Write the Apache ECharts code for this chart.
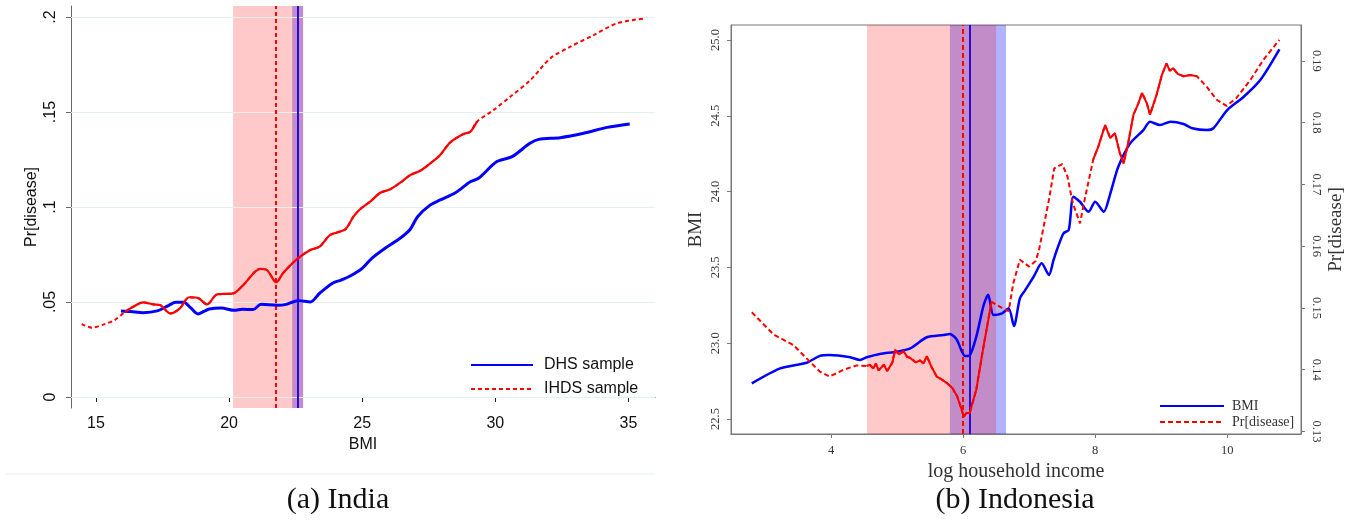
<!DOCTYPE html>
<html>
<head>
<meta charset="utf-8">
<title>BMI and Pr[disease]: India and Indonesia</title>
<script src="https://cdn.jsdelivr.net/npm/echarts@6/dist/echarts.min.js"></script>
<style>
  html, body { margin: 0; padding: 0; background: #fff; }
  #chart { width: 1353px; height: 521px; }
</style>
</head>
<body>
<div id="chart"></div>
<script>
// (a) India: Pr[disease] against BMI
const indiaXTicks = [15, 20, 25, 30, 35]
const indiaYTicks = [0, 0.05, 0.1, 0.15, 0.2]
const indiaDhs = [
  [15.94, .0453], [16.3, .0450], [16.77, .0444], [17.3, .0453], [17.7, .0480], [18.0, .0498],
  [18.3, .0498], [18.55, .0470], [18.83, .0437], [19.05, .0450], [19.25, .0463], [19.7, .0468],
  [20.2, .0456], [20.5, .0462], [20.9, .0460], [21.2, .0488], [21.8, .0483], [22.1, .0486],
  [22.6, .0507], [23.05, .0500], [23.4, .0546], [23.9, .0600], [24.2, .0615], [24.55, .0637],
  [25.0, .0677], [25.36, .0730], [25.86, .0783], [26.37, .0830], [26.8, .0882], [27.08, .0949],
  [27.56, .1011], [27.93, .1037], [28.5, .1075], [29.06, .1133], [29.37, .1151], [30.06, .1239],
  [30.63, .1265], [31.3, .1335], [31.63, .1356], [32.44, .1365], [33.32, .1388], [34.2, .1419],
  [35.05, .1437]
]
const indiaIhds = [
  [14.46, .0384], [14.84, .0365], [15.27, .0381], [15.7, .0405], [16.1, .0449], [16.4, .0475],
  [16.77, .0498], [17.15, .0487], [17.4, .0484], [17.8, .0440], [18.15, .0466], [18.5, .0525],
  [18.85, .0520], [19.17, .0487], [19.55, .0540], [20.15, .0545], [20.53, .0589], [21.17, .0674],
  [21.43, .0667], [21.77, .0604], [22.03, .0653], [22.56, .0727], [23.05, .0774], [23.4, .0791],
  [23.8, .0853], [24.36, .0882], [24.67, .0949], [24.92, .0988], [25.3, .1028], [25.68, .1075],
  [26.05, .1093], [26.43, .1128], [26.8, .1168], [27.18, .1191], [27.56, .1230], [27.93, .1274],
  [28.3, .1339], [28.8, .1384], [29.06, .1396], [29.31, .1449], [29.94, .1511], [30.56, .1580],
  [31.32, .1668], [32.07, .1783], [32.82, .1844], [33.7, .1905], [34.58, .1967], [35.64, .1993]
]
const indiaIhdsSolid = [[16.1, 29.31]]
const indiaPinkBand = [20.15, 22.78]
const indiaBlueBand = [22.37, 22.78]
const indiaIhdsMark = 21.77
const indiaDhsMark = 22.58

// (b) Indonesia: BMI and Pr[disease] against log household income
const indoXTicks = [4, 6, 8, 10]
const indoBmiTicks = [22.5, 23.0, 23.5, 24.0, 24.5, 25.0]
const indoPrTicks = [0.13, 0.14, 0.15, 0.16, 0.17, 0.18, 0.19]
const indoBmi = [
  [2.8, 22.735], [3.23, 22.834], [3.63, 22.871], [3.83, 22.916], [3.98, 22.922], [4.29, 22.907],
  [4.44, 22.889], [4.54, 22.907], [4.74, 22.929], [5.0, 22.944], [5.2, 22.966], [5.45, 23.039],
  [5.7, 23.054], [5.8, 23.06], [5.9, 23.026], [6.03, 22.916], [6.1, 22.92], [6.2, 23.043],
  [6.31, 23.25], [6.38, 23.32], [6.46, 23.186], [6.59, 23.197], [6.69, 23.23], [6.77, 23.113],
  [6.86, 23.296], [6.94, 23.35], [7.07, 23.44], [7.19, 23.527], [7.3, 23.45], [7.37, 23.549],
  [7.42, 23.615], [7.52, 23.725], [7.6, 23.747], [7.67, 23.966], [7.77, 23.933], [7.9, 23.867],
  [8.0, 23.933], [8.13, 23.867], [8.23, 23.989], [8.35, 24.164], [8.53, 24.318], [8.73, 24.406],
  [8.83, 24.461], [8.98, 24.439], [9.14, 24.461], [9.34, 24.446], [9.47, 24.418], [9.69, 24.406],
  [9.79, 24.418], [10.0, 24.538], [10.25, 24.626], [10.5, 24.736], [10.79, 24.939]
]
const indoPr = [
  [2.8, .1493], [3.13, .1457], [3.43, .1440], [3.68, .1413], [3.83, .1397], [3.98, .1389],
  [4.19, .1400], [4.39, .1407], [4.54, .1406], [4.59, .1408], [4.64, .1402], [4.68, .1410],
  [4.72, .1399], [4.8, .1408], [4.85, .1398], [4.89, .1405], [4.93, .1412], [4.97, .1432],
  [5.03, .1425], [5.1, .1430], [5.15, .1421], [5.2, .1419], [5.28, .1412], [5.35, .1415],
  [5.4, .1410], [5.45, .1422], [5.52, .1405], [5.6, .1389], [5.68, .1384], [5.76, .1378],
  [5.84, .1370], [5.91, .1357], [5.97, .1338], [6.01, .1324], [6.05, .1330], [6.1, .1330],
  [6.2, .1368], [6.3, .1432], [6.43, .1510], [6.59, .1500], [6.69, .1495], [6.76, .1540],
  [6.86, .1578], [7.0, .1567], [7.1, .1576], [7.15, .1594], [7.2, .1621], [7.3, .1675],
  [7.38, .1726], [7.5, .1733], [7.58, .1713], [7.66, .1670], [7.77, .1637], [7.84, .1675],
  [7.97, .1740], [8.05, .1762], [8.15, .1796], [8.23, .1775], [8.3, .1783], [8.37, .1752],
  [8.43, .1734], [8.5, .1767], [8.58, .1813], [8.65, .1830], [8.71, .1848], [8.78, .1832],
  [8.83, .1813], [8.93, .1845], [9.01, .1877], [9.08, .1896], [9.13, .1884], [9.18, .1888],
  [9.25, .1879], [9.34, .1875], [9.44, .1877], [9.54, .1875], [9.69, .1858], [9.84, .1837],
  [9.99, .1827], [10.14, .1840], [10.35, .1869], [10.55, .1902], [10.79, .1934]
]
const indoPrSolid = [[4.54, 6.43], [7.97, 9.54]]
const indoPinkBand = [4.545, 6.5]
const indoBlueBand = [5.8, 6.65]
const indoPrMark = 6.0
const indoBmiMark = 6.1

const RED = '#ff0000'
const BLUE = '#0000ff'
const SANS = 'Liberation Sans'
const SERIF = 'Liberation Serif'

const inRange = (data, range) => data.filter(d => d[0] >= range[0] && d[0] <= range[1])

const chart = echarts.init(document.getElementById('chart'))

const sansLabel = { fontFamily: SANS, fontSize: 16, color: '#111' }
const serifLabel = { fontFamily: SERIF, fontSize: 12.5, color: '#333' }
// line-only legend icons (hide the default circle)
const noSymbol = { color: 'transparent', borderColor: 'transparent', borderWidth: 0, opacity: 0 }

const series = [
  // bands, guide lines and grid lines of panel (a)
  {
    type: 'line', xAxisIndex: 0, yAxisIndex: 0, data: [], silent: true, z: 1,
    markLine: {
      silent: true, symbol: 'none', label: { show: false }, z: 1,
      lineStyle: { color: '#e6eef0', width: 1, type: 'solid' },
      data: indiaYTicks.map(v => ({ yAxis: v }))
    },
    markArea: {
      silent: true, z: 1,
      data: [
        [{ xAxis: indiaBlueBand[0], itemStyle: { color: 'rgba(0,0,255,0.3)' } }, { xAxis: indiaBlueBand[1] }],
        [{ xAxis: indiaPinkBand[0], itemStyle: { color: 'rgba(255,0,0,0.21)' } }, { xAxis: indiaPinkBand[1] }]
      ]
    }
  },
  {
    type: 'line', xAxisIndex: 0, yAxisIndex: 0, data: [], silent: true, z: 3,
    markLine: {
      silent: true, symbol: 'none', label: { show: false }, z: 3,
      data: [
        { xAxis: indiaIhdsMark, lineStyle: { color: RED, width: 2, type: [4, 3] } },
        { xAxis: indiaDhsMark, lineStyle: { color: '#2a0ad8', width: 2, type: 'solid' } }
      ]
    }
  },
  {
    name: 'DHS sample', type: 'line', xAxisIndex: 0, yAxisIndex: 0, data: indiaDhs,
    showSymbol: false, symbol: 'none', smooth: 0.3, z: 4,
    lineStyle: { color: BLUE, width: 3 }, itemStyle: { color: BLUE }
  },
  {
    name: 'IHDS sample', type: 'line', xAxisIndex: 0, yAxisIndex: 0, data: indiaIhds,
    showSymbol: false, symbol: 'none', smooth: 0.3, z: 4,
    lineStyle: { color: RED, width: 2, type: [4, 3] }, itemStyle: { color: RED }
  },
  ...indiaIhdsSolid.map(r => ({
    name: 'IHDS sample', type: 'line', xAxisIndex: 0, yAxisIndex: 0, data: inRange(indiaIhds, r),
    showSymbol: false, symbol: 'none', smooth: 0.3, z: 4,
    lineStyle: { color: RED, width: 2.2 }, itemStyle: { color: RED }
  })),

  // bands and guide lines of panel (b)
  {
    type: 'line', xAxisIndex: 1, yAxisIndex: 1, data: [], silent: true, z: 1,
    markArea: {
      silent: true, z: 1,
      data: [
        [{ xAxis: indoBlueBand[0], itemStyle: { color: 'rgba(0,0,255,0.3)' } }, { xAxis: indoBlueBand[1] }],
        [{ xAxis: indoPinkBand[0], itemStyle: { color: 'rgba(255,0,0,0.21)' } }, { xAxis: indoPinkBand[1] }]
      ]
    }
  },
  {
    type: 'line', xAxisIndex: 1, yAxisIndex: 1, data: [], silent: true, z: 3,
    markLine: {
      silent: true, symbol: 'none', label: { show: false }, z: 3,
      data: [
        { xAxis: indoPrMark, lineStyle: { color: RED, width: 2, type: [5, 3] } },
        { xAxis: indoBmiMark, lineStyle: { color: '#2a0ad8', width: 2, type: 'solid' } }
      ]
    }
  },
  {
    name: 'BMI', type: 'line', xAxisIndex: 1, yAxisIndex: 1, data: indoBmi,
    showSymbol: false, symbol: 'none', smooth: 0.25, z: 4,
    lineStyle: { color: BLUE, width: 2.5 }, itemStyle: { color: BLUE }
  },
  {
    name: 'Pr[disease]', type: 'line', xAxisIndex: 1, yAxisIndex: 2, data: indoPr,
    showSymbol: false, symbol: 'none', z: 4,
    lineStyle: { color: RED, width: 2, type: [5, 3] }, itemStyle: { color: RED }
  },
  ...indoPrSolid.map(r => ({
    name: 'Pr[disease]', type: 'line', xAxisIndex: 1, yAxisIndex: 2, data: inRange(indoPr, r),
    showSymbol: false, symbol: 'none', z: 4,
    lineStyle: { color: RED, width: 2 }, itemStyle: { color: RED }
  }))
]

const option = {
  animation: false,
  backgroundColor: '#fff',
  grid: [
    { left: 71, top: 6, width: 584, height: 402 },
    { left: 731, top: 25, width: 570, height: 409, show: true, borderColor: '#777', borderWidth: 1 }
  ],
  xAxis: [
    {
      type: 'value', gridIndex: 0, min: 14.06, max: 36.0,
      axisLine: { show: true, lineStyle: { color: '#222', width: 1 } },
      axisTick: { show: true, customValues: indiaXTicks, length: 5, lineStyle: { color: '#222' } },
      axisLabel: { customValues: indiaXTicks, margin: 8, ...sansLabel },
      splitLine: { show: false },
      name: 'BMI', nameLocation: 'middle', nameGap: 27, nameTextStyle: sansLabel
    },
    {
      type: 'value', gridIndex: 1, min: 2.485, max: 11.117,
      axisLine: { show: true, lineStyle: { color: '#777', width: 1 } },
      axisTick: { show: true, customValues: indoXTicks, length: 4, lineStyle: { color: '#777' } },
      axisLabel: { customValues: indoXTicks, margin: 10, ...serifLabel },
      splitLine: { show: false },
      name: 'log household income', nameLocation: 'middle', nameGap: 21,
      nameTextStyle: { fontFamily: SERIF, fontSize: 20, color: '#333' }
    }
  ],
  yAxis: [
    {
      type: 'value', gridIndex: 0, min: -0.0058, max: 0.2058,
      axisLine: { show: true, lineStyle: { color: '#666', width: 1 } },
      axisTick: { show: true, customValues: indiaYTicks, length: 5, lineStyle: { color: '#666' } },
      axisLabel: {
        customValues: indiaYTicks, rotate: 90, margin: 12, ...sansLabel,
        formatter: v => (v === 0 ? '0' : String(+v.toFixed(2)).replace(/^0\./, '.'))
      },
      splitLine: { show: false },
      name: 'Pr[disease]', nameLocation: 'middle', nameGap: 31, nameTextStyle: sansLabel
    },
    {
      type: 'value', gridIndex: 1, position: 'left', min: 22.401, max: 25.099,
      axisLine: { show: true, lineStyle: { color: '#777', width: 1 } },
      axisTick: { show: true, customValues: indoBmiTicks, length: 4, lineStyle: { color: '#777' } },
      axisLabel: { customValues: indoBmiTicks, rotate: 90, margin: 9, ...serifLabel, formatter: v => v.toFixed(1) },
      splitLine: { show: false },
      name: 'BMI', nameLocation: 'middle', nameGap: 25,
      nameTextStyle: { fontFamily: SERIF, fontSize: 19, color: '#333' }
    },
    {
      type: 'value', gridIndex: 1, position: 'right', min: 0.1296, max: 0.1958,
      axisLine: { show: true, lineStyle: { color: '#777', width: 1 } },
      axisTick: { show: true, customValues: indoPrTicks, length: 4, lineStyle: { color: '#777' } },
      axisLabel: { customValues: indoPrTicks, rotate: -90, margin: 9, ...serifLabel, formatter: v => v.toFixed(2) },
      splitLine: { show: false },
      name: 'Pr[disease]', nameLocation: 'middle', nameGap: 26,
      nameTextStyle: { fontFamily: SERIF, fontSize: 19, color: '#333' }
    }
  ],
  legend: [
    {
      data: ['DHS sample', 'IHDS sample'], orient: 'vertical', left: 465, top: 352,
      itemWidth: 62, itemHeight: 16, itemGap: 8, selectedMode: false, itemStyle: noSymbol,
      textStyle: { ...sansLabel, padding: [0, 0, 0, 6] }
    },
    {
      data: ['BMI', 'Pr[disease]'], orient: 'vertical', left: 1154, top: 394,
      itemWidth: 64, itemHeight: 14, itemGap: 2, selectedMode: false, itemStyle: noSymbol,
      textStyle: { fontFamily: SERIF, fontSize: 14, color: '#333', padding: [0, 0, 0, 3] }
    }
  ],
  graphic: [
    { type: 'line', shape: { x1: 5, y1: 474, x2: 655, y2: 474 }, style: { stroke: '#e8eff2', lineWidth: 1 }, silent: true },
    { type: 'text', x: 338, y: 500, style: { text: '(a) India', font: '30px "Liberation Serif"', fill: '#111', textAlign: 'center', textVerticalAlign: 'middle' } },
    { type: 'text', x: 1015, y: 500, style: { text: '(b) Indonesia', font: '30px "Liberation Serif"', fill: '#111', textAlign: 'center', textVerticalAlign: 'middle' } }
  ],
  series
}

chart.setOption(option)
window.addEventListener('resize', () => chart.resize())
</script>
</body>
</html>
